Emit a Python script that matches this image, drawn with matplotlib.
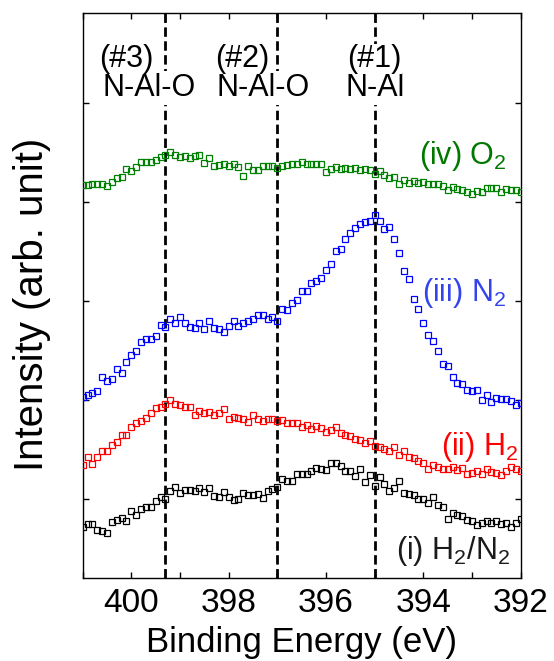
import numpy as np
import matplotlib
matplotlib.use("Agg")
import matplotlib.pyplot as plt
from matplotlib.ticker import MultipleLocator

plt.rcParams["font.family"] = ["Liberation Sans", "DejaVu Sans"]
plt.rcParams["mathtext.fontset"] = "custom"
plt.rcParams["mathtext.rm"] = "Liberation Sans"
plt.rcParams["mathtext.it"] = "Liberation Sans:italic"
plt.rcParams["mathtext.bf"] = "Liberation Sans:bold"

# Binding energy grid (eV), 0.1 eV steps from 401 down to 392
energy = np.linspace(401.0, 392.0, 91)

# N 1s spectra (arb. unit, vertically offset)
i_h2n2 = [51, 54, 54, 48, 47, 45, 56, 58, 60, 57, 67, 63, 69, 71, 71, 77, 81, 79, 87, 91,
          85, 88, 88, 87, 90, 86, 90, 82, 81, 86, 81, 78, 79, 85, 83, 83, 84, 80, 87, 89,
          91, 99, 97, 97, 104, 104, 104, 107, 110, 109, 108, 115, 115, 112, 107, 107, 102, 109, 96, 103,
          92, 101, 94, 87, 90, 97, 85, 84, 83, 79, 79, 75, 81, 73, 71, 59, 65, 63, 62, 58,
          57, 53, 55, 57, 55, 57, 54, 55, 51, 55, 59]
i_h2 = [113, 121, 114, 121, 127, 127, 133, 136, 143, 143, 151, 155, 157, 160, 165, 170, 171, 174, 178, 174,
        173, 171, 171, 163, 167, 165, 166, 163, 165, 169, 159, 161, 160, 159, 156, 163, 159, 157, 159, 159,
        157, 158, 155, 155, 155, 151, 153, 149, 152, 150, 146, 148, 151, 145, 143, 142, 139, 138, 135, 137,
        132, 131, 129, 127, 131, 123, 127, 121, 120, 117, 115, 109, 113, 111, 109, 109, 111, 108, 110, 104,
        105, 107, 104, 109, 106, 105, 103, 107, 111, 109, 107]
i_n2 = [181, 183, 185, 187, 201, 197, 199, 209, 205, 216, 223, 227, 236, 239, 239, 242, 253, 251, 259, 255,
        261, 255, 251, 250, 255, 249, 257, 250, 249, 246, 252, 257, 252, 255, 257, 259, 263, 263, 259, 261,
        257, 269, 268, 275, 278, 287, 287, 295, 297, 300, 308, 314, 327, 329, 339, 345, 350, 354, 356, 357,
        363, 357, 349, 351, 339, 325, 307, 299, 279, 269, 255, 243, 237, 227, 214, 212, 201, 195, 194, 188,
        187, 188, 178, 183, 176, 180, 179, 179, 177, 173, 175]
i_o2 = [393, 393, 394, 394, 394, 392, 396, 400, 401, 409, 407, 411, 416, 416, 416, 418, 421, 423, 426, 423,
        421, 422, 420, 422, 423, 415, 420, 412, 413, 414, 412, 414, 411, 402, 412, 408, 408, 412, 412, 412,
        410, 412, 413, 414, 414, 416, 414, 414, 414, 414, 406, 409, 411, 409, 410, 409, 410, 408, 409, 408,
        404, 407, 403, 400, 401, 394, 398, 395, 397, 395, 396, 394, 394, 394, 392, 388, 391, 389, 388, 386,
        384, 387, 386, 390, 390, 390, 386, 389, 388, 388, 386]

series_names = ["(i) H$_2$/N$_2$", "(ii) H$_2$", "(iii) N$_2$", "(iv) O$_2$"]
series_values = [i_h2n2, i_h2, i_n2, i_o2]
marker_colors = ["#000000", "#ff0000", "#0000ff", "#008000"]
text_colors = ["#1a1a1a", "#ff0000", "#3344ee", "#007800"]
label_x = [392.22, 392.05, 392.29, 392.29]
label_y = [19, 123, 277, 414]

# Component positions (eV)
peak_pos = [399.3, 397.0, 395.0]
peak_tag = ["(#3)", "(#2)", "(#1)"]
peak_bond = ["N-Al-O", "N-Al-O", "N-Al"]

fig = plt.figure(figsize=(5.54, 6.61), dpi=100)
ax = fig.add_axes([82.7 / 554, 1 - 578 / 661, 438 / 554, 565 / 661])

for vals, mc in zip(series_values, marker_colors):
    ax.plot(energy, vals, ls="none", marker="s", ms=4.8, mfc="none",
            mec=mc, mew=0.9, zorder=3)

for e in peak_pos:
    ax.axvline(e, color="black", lw=2.0, ls=(0, (3.4, 1.6)), zorder=2)

for name, tc, lx, ly in zip(series_names, text_colors, label_x, label_y):
    ax.text(lx, ly, name, color=tc, fontsize=22, ha="right", va="baseline", zorder=5)

bond_box = dict(facecolor="white", edgecolor="none", pad=1.5)
tag_box = dict(facecolor="white", edgecolor="none", pad=0)
# (#3) and (#2): left-aligned labels, (#1): centred on its line
ax.text(400.60, 482, peak_bond[0], fontsize=22, ha="left", va="baseline", zorder=4, bbox=bond_box)
ax.text(398.26, 482, peak_bond[1], fontsize=22, ha="left", va="baseline", zorder=4, bbox=bond_box)
ax.text(peak_pos[2], 482, peak_bond[2], fontsize=22, ha="center", va="baseline", zorder=4, bbox=bond_box)
ax.text(400.67, 511, peak_tag[0], fontsize=22, ha="left", va="baseline", zorder=5)
ax.text(398.28, 511, peak_tag[1], fontsize=22, ha="left", va="baseline", zorder=5)
ax.text(peak_pos[2], 511, peak_tag[2], fontsize=22, ha="center", va="baseline", zorder=5, bbox=tag_box)

ax.set_xlim(401, 392)
ax.set_ylim(0, 565)
ax.xaxis.set_major_locator(MultipleLocator(2))
ax.xaxis.set_minor_locator(MultipleLocator(1))
ax.set_yticks([79, 178, 277, 376, 475])
ax.tick_params(which="both", direction="in", top=True, right=True,
               length=4, width=1, labelsize=24, pad=7, labelleft=False)
for sp in ax.spines.values():
    sp.set_linewidth(1.0)

ax.set_xlabel("Binding Energy (eV)", fontsize=25, labelpad=5)
ax.set_ylabel("Intensity (arb. unit)", fontsize=29)
ax.yaxis.set_label_coords(-0.073, 0.485)

fig.savefig("out.png", dpi=100)
